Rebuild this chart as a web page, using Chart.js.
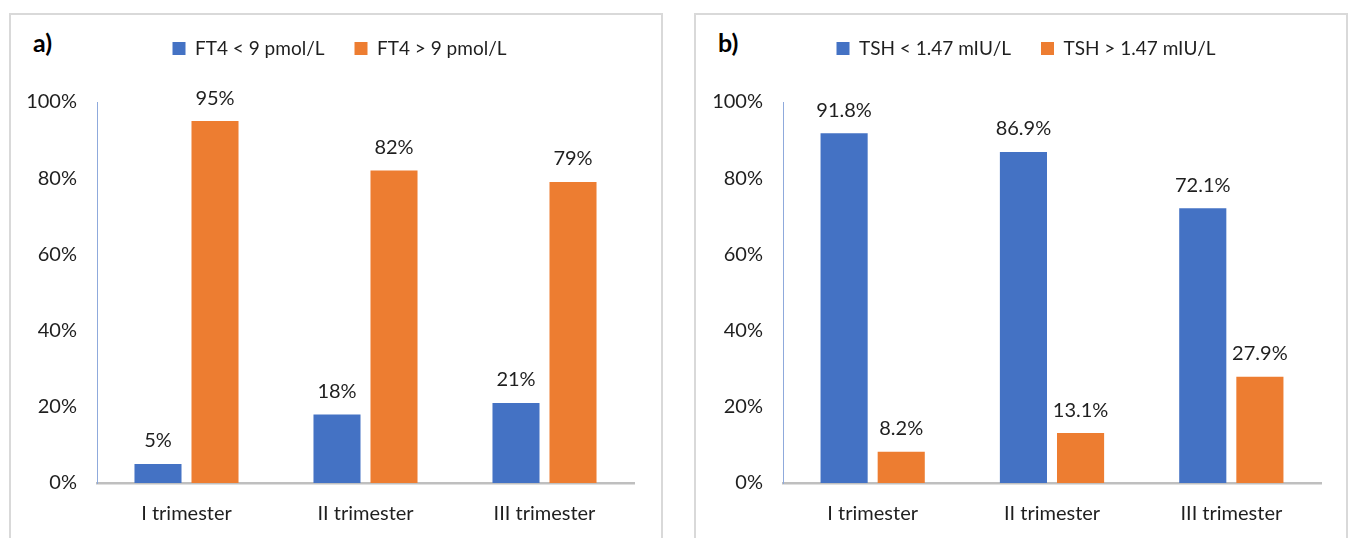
<!DOCTYPE html>
<html lang="en">
<head>
<meta charset="UTF-8">
<title>FT4 and TSH by trimester</title>
<script src="https://cdn.jsdelivr.net/npm/chart.js"></script>
<style>
  html, body { margin: 0; padding: 0; background: #fff; overflow: hidden; }
  body { width: 1351px; height: 538px; position: relative; font-family: Lato, sans-serif; }
  .panel {
    position: absolute; top: 13px; width: 654px; height: 545px;
    box-sizing: border-box; border: 2px solid #d9d9d9; background: #fff;
  }
  .panel canvas { position: absolute; left: 0; top: 0; }
  .tag { position: absolute; top: 12px; font: bold 25px Lato, sans-serif; color: #000; }
</style>
</head>
<body>
<div class="panel" id="p1" style="left:9px"><div class="tag" style="left:22px">a)</div><canvas id="chartA"></canvas></div>
<div class="panel" id="p2" style="left:694px"><div class="tag" style="left:22px">b)</div><canvas id="chartB"></canvas></div>

<script>
  const categories = ["I trimester", "II trimester", "III trimester"];
  const ft4Low = [5, 18, 21];
  const ft4High = [95, 82, 79];
  const tshLow = [91.8, 86.9, 72.1];
  const tshHigh = [8.2, 13.1, 27.9];
  const yTicks = [0, 20, 40, 60, 80, 100];

  const blue = "#4472C4";
  const orange = "#ED7D31";
  const font = "Lato";

  // draws the value above each bar
  const valueLabels = {
    id: "valueLabels",
    afterDatasetsDraw(chart, args, opts) {
      const ctx = chart.ctx;
      ctx.save();
      ctx.font = "20px " + font;
      ctx.fillStyle = "#1f1f1f";
      ctx.textAlign = "center";
      ctx.textBaseline = "middle";
      chart.data.datasets.forEach((ds, i) => {
        chart.getDatasetMeta(i).data.forEach((bar, j) => {
          ctx.fillText(ds.data[j].toFixed(opts.decimals) + "%", bar.x, bar.y - 23);
        });
      });
      ctx.restore();
    }
  };

  // legend sits on the same line as the panel tag, nudge it there
  const legendShift = {
    id: "legendShift",
    afterLayout(chart, args, opts) {
      const lg = chart.legend;
      lg.left += opts.dx; lg.right += opts.dx;
      lg.top += opts.dy; lg.bottom += opts.dy;
    }
  };

  function makeChart(id, names, low, high, decimals, pad) {
    return new Chart(id, {
      type: "bar",
      data: {
        labels: categories,
        datasets: [
          { label: names[0], data: low, backgroundColor: blue },
          { label: names[1], data: high, backgroundColor: orange }
        ]
      },
      options: {
        responsive: false,
        animation: false,
        categoryPercentage: 0.637,
        barPercentage: 0.825,
        layout: { padding: { left: 0, right: pad.right, top: 28, bottom: 0 } },
        scales: {
          x: {
            grid: { display: false, drawTicks: false },
            border: { color: "#bfbfbf", width: 2.5 },
            ticks: { color: "#1f1f1f", font: { family: font, size: 20 }, padding: 19 },
            afterFit(s) { s.height = 536 - 468; }
          },
          y: {
            min: 0, max: 100,
            afterBuildTicks(s) { s.ticks = yTicks.map(v => ({ value: v })); },
            grid: { display: false, drawTicks: false },
            border: { color: "#8faadc", width: 1 },
            ticks: {
              color: "#1f1f1f", font: { family: font, size: 20 }, padding: 20,
              callback: v => v + "%"
            },
            afterFit(s) { s.width = pad.axis; }
          }
        },
        plugins: {
          legend: {
            position: "top",
            labels: {
              color: "#1f1f1f", font: { family: font, size: 19 },
              boxWidth: 13, boxHeight: 13, padding: 30
            }
          },
          tooltip: { enabled: false },
          valueLabels: { decimals: decimals },
          legendShift: { dx: pad.dx, dy: -34 }
        }
      },
      plugins: [valueLabels, legendShift]
    });
  }

  function setup(id) {
    const c = document.getElementById(id);
    c.width = 650; c.height = 536;
    c.style.width = "650px"; c.style.height = "536px";
  }
  setup("chartA");
  setup("chartB");

  makeChart("chartA", ["FT4 < 9 pmol/L", "FT4 > 9 pmol/L"], ft4Low, ft4High, 0,
    { right: 27, axis: 86, dx: 17 });
  makeChart("chartB", ["TSH < 1.47 mIU/L", "TSH > 1.47 mIU/L"], tshLow, tshHigh, 1,
    { right: 25, axis: 87, dx: 17.5 });
</script>
</body>
</html>
